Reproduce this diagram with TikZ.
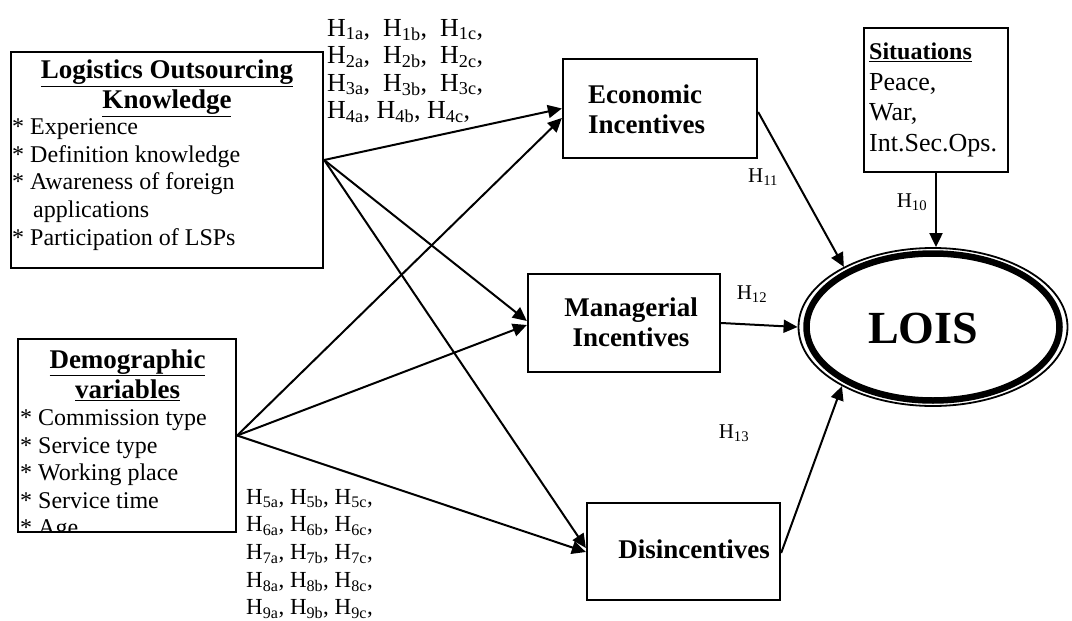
\documentclass[tikz,border=0pt]{standalone}
\usepackage{fontspec}
\setmainfont{Liberation Serif}
\usetikzlibrary{arrows.meta,shapes.geometric}
\newcommand{\fs}[2]{\fontsize{#1pt}{#2pt}\selectfont}
\newcommand{\Hs}[1]{H\textsubscript{#1}}
\begin{document}
\begin{tikzpicture}[x=1pt,y=-1pt,
  box/.style={draw,line width=2.3pt,inner sep=0pt},
  arr/.style={line width=2pt,-{Triangle[length=14pt,width=13pt]}},
  body/.style={inner sep=0pt,align=left,font=\fs{24}{27.6}},
  ttl/.style={inner sep=0pt,align=center,font=\fs{27}{30}\bfseries},
  hyptop/.style={inner sep=0pt,align=left,font=\fs{26}{27.5}},
  hyp/.style={inner sep=0pt,align=left,font=\fs{23}{27.7}},
  hsmall/.style={inner sep=0pt,font=\fs{21}{24}}]
\useasboundingbox (0,0) rectangle (1072,621);
\fill[white] (0,0) rectangle (1072,621);

% Logistics Outsourcing Knowledge
\node[box,minimum width=312pt,minimum height=216pt] (lok) at (167,160) {};
\node[ttl] (lokt) at (167,88) {\underline{Logistics Outsourcing}\\\underline{Knowledge}};
\node[body,anchor=west] (lokl) at (12,184.5) {* Experience\\* Definition knowledge\\* Awareness of foreign\\\hspace*{21pt}applications\\* Participation of LSPs};

% Demographic variables
\node[box,minimum width=218pt,minimum height=193pt] (dem) at (127,435.5) {};
\node[ttl] (demt) at (127.5,375) {\underline{Demographic}\\\underline{variables}};
\begin{scope}
\clip ([xshift=1.2pt,yshift=-1.2pt]dem.north west) rectangle ([xshift=-1.2pt,yshift=1.2pt]dem.south east);
\node[body,anchor=north west] (deml) at (20,409.5) {* Commission type\\* Service type\\* Working place\\* Service time\\* Age};
\end{scope}

% Incentive boxes
\node[box,minimum width=194pt,minimum height=99pt] (eco) at (660,108.5) {};
\node[ttl,align=left,anchor=west] (ecot) at (588,109) {Economic\\Incentives};
\node[box,minimum width=192pt,minimum height=98pt] (man) at (624,323) {};
\node[ttl] (mant) at (631,322) {Managerial\\Incentives};
\node[box,minimum width=193pt,minimum height=97pt] (dis) at (683.5,551.5) {};
\node[ttl] (dist) at (694,549) {Disincentives};

% Situations
\node[box,minimum width=144pt,minimum height=144pt] (sit) at (936,100) {};
\node[inner sep=0pt,align=left,anchor=west,font=\fs{26}{30.5}] (sitt) at (869,100) {{\fs{24}{30.5}\bfseries\underline{Situations}}\\Peace,\\War,\\Int.Sec.Ops.};

% LOIS
\node[draw,shape=ellipse,line width=1.8pt,minimum width=269pt,minimum height=158pt,inner sep=0pt] (lois) at (933,327) {};
\draw[line width=6.5pt] (lois.center) ellipse [x radius=126.5pt, y radius=73.5pt];
\node[inner sep=0pt,font=\fs{46}{50}\bfseries] (loist) at (923,328) {LOIS};

% hypothesis labels
\node[hyptop,anchor=west] (hA) at (327,71) {\Hs{1a},\ \ \Hs{1b},\ \ \Hs{1c},\\\Hs{2a},\ \ \Hs{2b},\ \ \Hs{2c},\\\Hs{3a},\ \ \Hs{3b},\ \ \Hs{3c},\\\Hs{4a}, \Hs{4b}, \Hs{4c},};
\node[hyp,anchor=west] (hB) at (246,554) {\Hs{5a}, \Hs{5b}, \Hs{5c},\\\Hs{6a}, \Hs{6b}, \Hs{6c},\\\Hs{7a}, \Hs{7b}, \Hs{7c},\\\Hs{8a}, \Hs{8b}, \Hs{8c},\\\Hs{9a}, \Hs{9b}, \Hs{9c},};
\node[hsmall] (h10) at (912,202) {\Hs{10}};
\node[hsmall] (h11) at (763,177) {\Hs{11}};
\node[hsmall] (h12) at (752,294) {\Hs{12}};
\node[hsmall] (h13) at (734,433) {\Hs{13}};

% connectors
\draw[arr] (lok.east) -- (eco.west);
\draw[arr] (lok.east) -- ([yshift=2pt]man.west);
\draw[arr] (lok.east) -- ([yshift=3.5pt]dis.west);
\draw[arr] (dem.east) -- ([yshift=-9.5pt]eco.west);
\draw[arr] (dem.east) -- ([yshift=-2pt]man.west);
\draw[arr] (dem.east) -- ([yshift=-0.5pt]dis.west);
\draw[arr] ([yshift=-3.5pt]eco.east) -- (lois.146.6);
\draw[arr] (sit.south) -- (sit.south |- lois.north);
\draw[arr] (man.east) -- (lois.west);
\draw[arr] ([yshift=-1.5pt]dis.east) -- (lois.213.4);
\end{tikzpicture}
\end{document}
